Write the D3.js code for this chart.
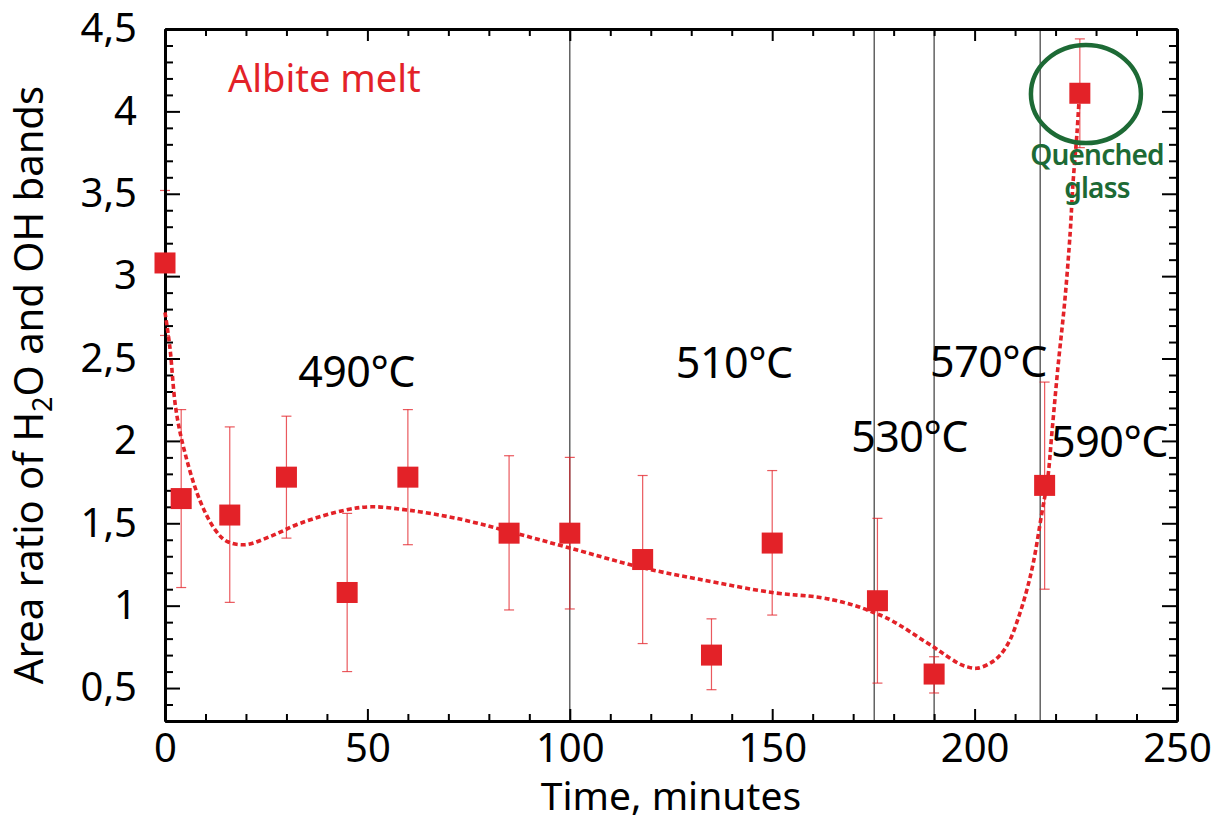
<!DOCTYPE html>
<html>
<head>
<meta charset="utf-8">
<script src="https://cdn.jsdelivr.net/npm/d3@7"></script>
<style>
  html, body { margin: 0; padding: 0; background: #fff; }
  svg { display: block; font-family: "Noto Sans", sans-serif; }
</style>
</head>
<body>
<svg id="chart" width="1225" height="822"></svg>
<script>
// ---- data ----
const times   = [0, 4, 16, 30, 45, 60, 85, 100, 118, 135, 150, 176, 190, 217.3, 226];
const ratio   = [3.08, 1.65, 1.55, 1.78, 1.08, 1.78, 1.44, 1.44, 1.28, 0.70, 1.38, 1.03, 0.585, 1.73, 4.11];
const errLow  = [2.64, 1.11, 1.02, 1.41, 0.60, 1.37, 0.974, 0.98, 0.77, 0.49, 0.943, 0.53, 0.47, 1.10, 3.78];
const errHigh = [3.52, 2.19, 2.085, 2.15, 1.56, 2.19, 1.91, 1.90, 1.79, 0.92, 1.82, 1.53, 0.69, 2.357, 4.44];

const fitTime  = [0, 1.2, 2.7, 4.9, 8.6, 12.4, 15.3, 19.8, 26, 33.4, 44.5, 51, 60, 72, 85, 100, 118, 132, 150, 161.8, 167.6, 171.7, 175.4, 177.9, 181.6, 186, 189.8, 192.2, 196, 198, 200.5, 203.8, 206.3, 208.7, 211, 212.9, 214.5, 216.6, 218.1, 219.1, 220.6, 222.3, 223.6, 224.3, 225.3, 225.8];
const fitRatio = [2.78, 2.57, 2.19, 1.93, 1.64, 1.46, 1.39, 1.37, 1.42, 1.50, 1.58, 1.60, 1.58, 1.53, 1.45, 1.35, 1.23, 1.16, 1.08, 1.05, 1.02, 0.99, 0.955, 0.93, 0.88, 0.81, 0.75, 0.71, 0.65, 0.63, 0.62, 0.65, 0.70, 0.79, 0.94, 1.095, 1.26, 1.56, 1.78, 2.05, 2.45, 2.855, 3.26, 3.56, 3.87, 4.07];

const tempLines = [100, 175.2, 190, 216.2];
const tempLabels = ["490°C", "510°C", "530°C", "570°C", "590°C"];
const tempLabelTime = [32.9, 126.2, 169.5, 189, 218.9];
const tempLabelRatio = [2.33, 2.38, 1.93, 2.39, 1.90];

const xMajor = [0, 50, 100, 150, 200, 250];
const yMajor = [0.5, 1, 1.5, 2, 2.5, 3, 3.5, 4, 4.5];

const seriesLabel = "Albite melt";
const noteLines = ["Quenched", "glass"];
const xTitle = "Time, minutes";

// ---- layout ----
const svg = d3.select("#chart");
const L = 165, R = 1177, T = 29, B = 721;
const x = d3.scaleLinear().domain([0, 250]).range([L, R]);
const y = d3.scaleLinear().domain([0.3, 4.5]).range([B, T]);
const red = "#e32228";
const green = "#1d6a35";

const xMinor = d3.range(0, 251, 10).filter(v => v % 50 !== 0);
const yMinor = d3.range(3, 46, 1).map(v => v / 10).filter(v => Math.round(v * 10) % 5 !== 0);
const fmt = d => String(d).replace(".", ",");

// vertical temperature lines
svg.append("g").selectAll("line").data(tempLines).join("line")
  .attr("x1", d => x(d)).attr("x2", d => x(d))
  .attr("y1", y(0.3)).attr("y2", y(4.5))
  .attr("stroke", "#4a4a4a").attr("stroke-width", 1.3);

// error bars
const idx = d3.range(times.length);
const eb = svg.append("g").attr("stroke", red).attr("stroke-width", 1.2).attr("stroke-opacity", 0.75);
eb.selectAll("line.v").data(idx).join("line").attr("class", "v")
  .attr("x1", i => x(times[i])).attr("x2", i => x(times[i]))
  .attr("y1", i => y(errLow[i])).attr("y2", i => y(errHigh[i]));
eb.selectAll("line.t").data(idx).join("line").attr("class", "t")
  .attr("x1", i => x(times[i]) - 5).attr("x2", i => x(times[i]) + 5)
  .attr("y1", i => y(errHigh[i])).attr("y2", i => y(errHigh[i]));
eb.selectAll("line.b").data(idx).join("line").attr("class", "b")
  .attr("x1", i => x(times[i]) - 5).attr("x2", i => x(times[i]) + 5)
  .attr("y1", i => y(errLow[i])).attr("y2", i => y(errLow[i]));

// axes
function styleAxis(g) {
  g.selectAll(".domain").attr("stroke", "#000").attr("stroke-width", 3);
  g.selectAll(".tick line").attr("stroke", "#000").attr("stroke-width", 2);
  g.selectAll(".tick text").attr("fill", "#000").attr("font-size", 40)
    .attr("font-family", '"Noto Sans", sans-serif');
}
// bottom
svg.append("g").attr("transform", `translate(0,${B})`)
  .call(d3.axisBottom(x).tickValues(xMajor).tickSize(-12).tickSizeOuter(0).tickPadding(13).tickFormat(d3.format("d")))
  .call(styleAxis);
svg.append("g").attr("transform", `translate(0,${B})`)
  .call(d3.axisBottom(x).tickValues(xMinor).tickSize(-7).tickSizeOuter(0).tickFormat(""))
  .call(styleAxis);
// top
svg.append("g").attr("transform", `translate(0,${T})`)
  .call(d3.axisTop(x).tickValues(xMajor).tickSize(-12).tickSizeOuter(0).tickFormat(""))
  .call(styleAxis);
svg.append("g").attr("transform", `translate(0,${T})`)
  .call(d3.axisTop(x).tickValues(xMinor).tickSize(-7).tickSizeOuter(0).tickFormat(""))
  .call(styleAxis);
// left
svg.append("g").attr("transform", `translate(${L},0)`)
  .call(d3.axisLeft(y).tickValues(yMajor).tickSize(-15).tickSizeOuter(0).tickPadding(28).tickFormat(fmt))
  .call(styleAxis);
svg.append("g").attr("transform", `translate(${L},0)`)
  .call(d3.axisLeft(y).tickValues(yMinor).tickSize(-8).tickSizeOuter(0).tickFormat(""))
  .call(styleAxis);
// right
svg.append("g").attr("transform", `translate(${R},0)`)
  .call(d3.axisRight(y).tickValues(yMajor).tickSize(-15).tickSizeOuter(0).tickFormat(""))
  .call(styleAxis);
svg.append("g").attr("transform", `translate(${R},0)`)
  .call(d3.axisRight(y).tickValues(yMinor).tickSize(-8).tickSizeOuter(0).tickFormat(""))
  .call(styleAxis);

// fit curve
const fit = fitTime.map((t, i) => [t, fitRatio[i]]);
svg.append("path").datum(fit)
  .attr("fill", "none").attr("stroke", red).attr("stroke-width", 3.6)
  .attr("stroke-dasharray", "5,3")
  .attr("d", d3.line().x(d => x(d[0])).y(d => y(d[1])).curve(d3.curveCatmullRom.alpha(0.5)));

// square markers
const S = 21;
svg.append("g").selectAll("rect").data(idx).join("rect")
  .attr("x", i => x(times[i]) - S / 2).attr("y", i => y(ratio[i]) - S / 2)
  .attr("width", S).attr("height", S).attr("fill", red);

// texts
svg.append("text").attr("x", 228).attr("y", 92).attr("fill", red)
  .attr("font-size", 38).text(seriesLabel);

svg.append("g").selectAll("text").data(tempLabels).join("text")
  .attr("x", (d, i) => x(tempLabelTime[i])).attr("y", (d, i) => y(tempLabelRatio[i]))
  .attr("font-size", 43).attr("letter-spacing", -0.5).attr("fill", "#000").text(d => d);

// quenched glass annotation
svg.append("ellipse").attr("cx", x(227.5)).attr("cy", y(4.105))
  .attr("rx", 55).attr("ry", 49).attr("fill", "none")
  .attr("stroke", green).attr("stroke-width", 4.5);
svg.append("g").selectAll("text").data(noteLines).join("text")
  .attr("x", 1097).attr("y", (d, i) => 165 + i * 33)
  .attr("text-anchor", "middle").attr("font-size", 28).attr("font-weight", 600)
  .attr("letter-spacing", -0.8).attr("fill", green).text(d => d);

// axis titles
svg.append("text").attr("x", (L + R) / 2).attr("y", 810)
  .attr("text-anchor", "middle").attr("font-size", 39).attr("fill", "#000").text(xTitle);

const yt = svg.append("text")
  .attr("transform", "translate(43,385) rotate(-90)")
  .attr("text-anchor", "middle").attr("font-size", 40).attr("fill", "#000");
yt.append("tspan").text("Area ratio of H");
yt.append("tspan").attr("font-size", 27).attr("dy", 9).text("2");
yt.append("tspan").attr("dy", -9).text("O and OH bands");
</script>
</body>
</html>
